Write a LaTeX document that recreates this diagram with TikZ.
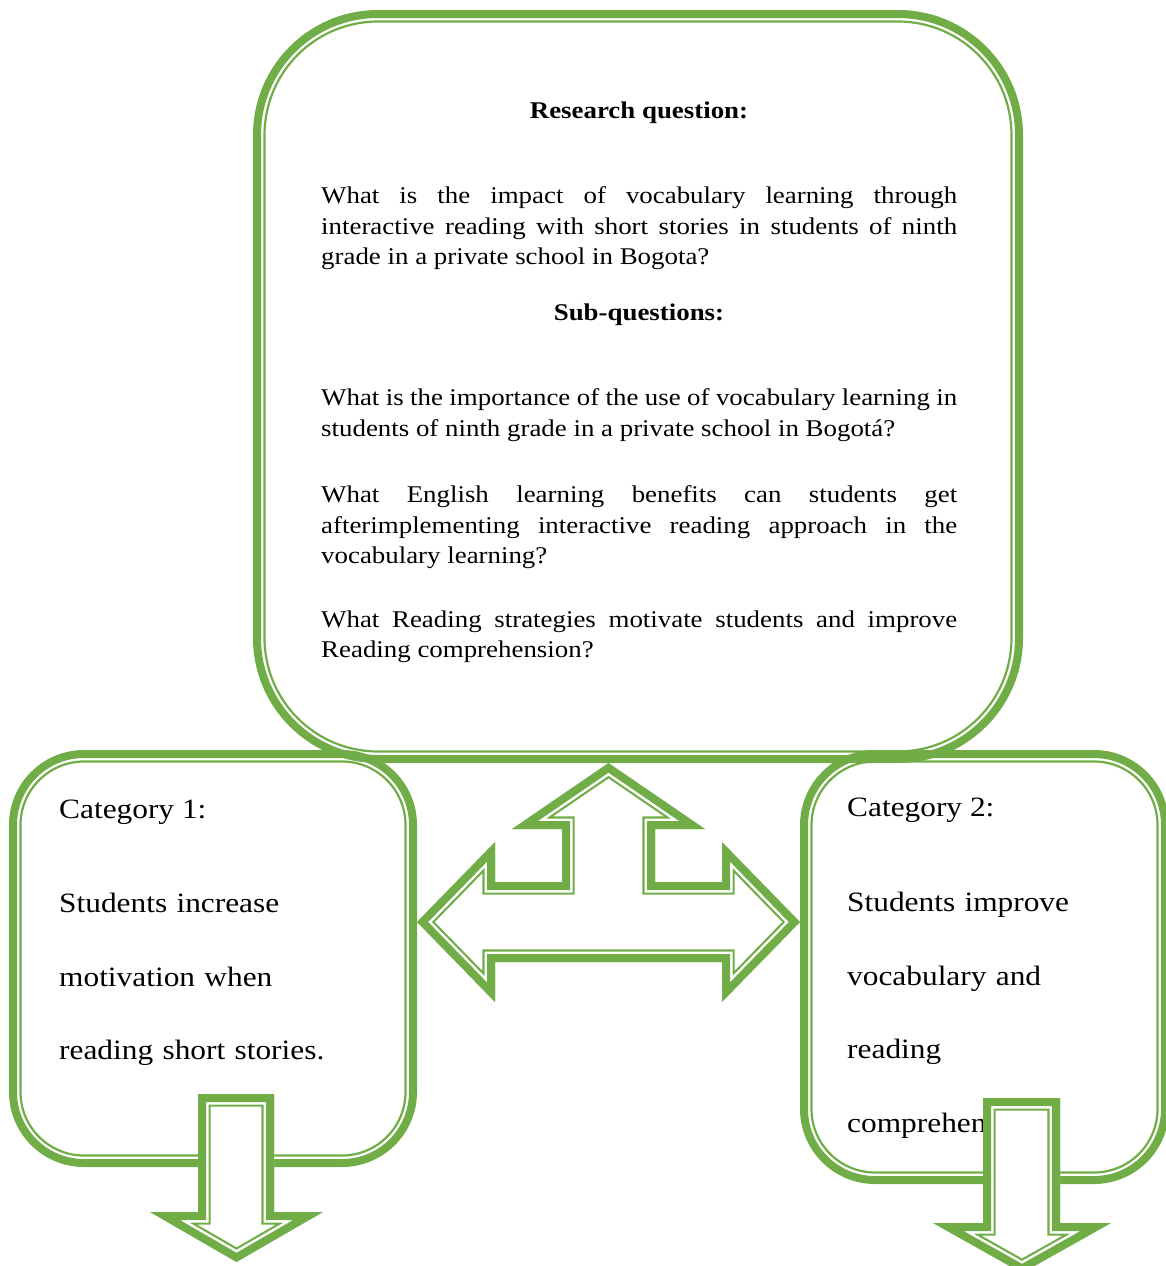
\documentclass[tikz,border=0pt]{standalone}
\usepackage{fontspec}
\setmainfont[FakeStretch=1.12]{Liberation Serif}
\definecolor{framegreen}{HTML}{70AD47}

% thick-thin frame of a rounded box, outer edge given
\newcommand{\greenbox}[5]{%
    \draw[framegreen, line width=8pt, rounded corners=#5-4]
        (#1+4, #2+4) rectangle (#3-4, #4-4);
    \draw[framegreen, line width=2.2pt, rounded corners=#5-11.5]
        (#1+11.5, #2+11.5) rectangle (#3-11.5, #4-11.5);
}

% block arrow: white inside, thick outer line, thin inner line
\newcommand{\blockarrow}[1]{%
    \begin{scope}
        \clip #1;
        \fill[white] #1;
        \draw[framegreen, line width=25.4pt, line join=miter] #1;
        \draw[white, line width=21pt, line join=miter] #1;
        \draw[framegreen, line width=16pt, line join=miter] #1;
    \end{scope}
}

\tikzset{
    qhead/.style={anchor=base, inner sep=0pt, font=\fontsize{24}{30.5}\selectfont\bfseries},
    qtext/.style={anchor=north west, inner sep=0pt, text width=636pt, align=justify,
        font=\fontsize{24}{30.5}\selectfont},
    cathead/.style={anchor=base west, inner sep=0pt, font=\fontsize{28}{73.6}\selectfont},
    cattext/.style={anchor=north west, inner sep=0pt, text width=320pt, align=left,
        font=\fontsize{28}{73.6}\selectfont}
}

\begin{document}
\begin{tikzpicture}[x=1pt, y=-1pt]
    % Page frame
    \clip (0,0) rectangle (1166,1266);

    % Boxes
    \greenbox{253}{10}{1023}{763}{125}
    \greenbox{9}{750}{417}{1167}{75}
    \greenbox{800}{750}{1169}{1184}{75}

    % Research question
    \node[qhead] (rqhead) at (639, 118) {Research question:};
    \node[qtext] (rqtext) at (321, 186.5) {What is the impact of vocabulary learning through\linebreak
        interactive reading with short stories in students of ninth\linebreak
        grade in a private school in Bogota?};

    % Sub-questions
    \node[qhead] (sqhead) at (639, 320) {Sub-questions:};
    \node[qtext] (sq1) at (321, 388.5) {What is the importance of the use of vocabulary learning in\linebreak
        students of ninth grade in a private school in Bogotá?};
    \node[qtext] (sq2) at (321, 485.5) {What English learning benefits can students get\linebreak
        afterimplementing interactive reading approach in the\linebreak
        vocabulary learning?};
    \node[qtext] (sq3) at (321, 610.5) {What Reading strategies motivate students and improve\linebreak
        Reading comprehension?};

    % Categories
    \node[cathead] (cat1) at (59, 818) {Category 1:};
    \node[cattext] (cat1text) at (59, 893) {Students increase\\ motivation when\\ reading short stories.};
    \node[cathead] (cat2) at (847, 816) {Category 2:};
    \node[cattext] (cat2text) at (847, 892) {Students improve\\ vocabulary and\\ reading\\ comprehension.};

    % Arrows
    \blockarrow{(608.5,763) -- (705,829) -- (655,829) -- (655,882) -- (722,882) -- (722,842)
        -- (800,922) -- (722,1002) -- (722,962) -- (495,962) -- (495,1002) -- (417,922)
        -- (495,842) -- (495,882) -- (562,882) -- (562,829) -- (512,829) -- cycle}
    \blockarrow{(198,1094) -- (274,1094) -- (274,1212) -- (323,1212) -- (236.5,1262)
        -- (150,1212) -- (198,1212) -- cycle}
    \blockarrow{(983,1098) -- (1060,1098) -- (1060,1223) -- (1111,1223) -- (1022,1273)
        -- (933,1223) -- (983,1223) -- cycle}
\end{tikzpicture}
\end{document}
